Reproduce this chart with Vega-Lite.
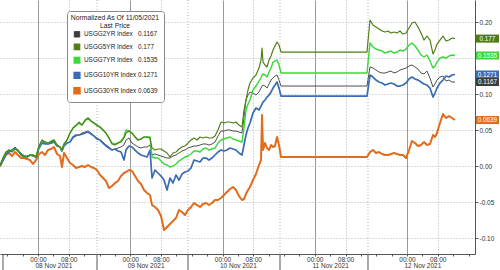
{
  "$schema": "https://vega.github.io/schema/vega-lite/v6.json",
  "width": 475,
  "height": 254,
  "autosize": {"type": "none"},
  "padding": {"left": 0, "top": 0, "right": 25, "bottom": 16},
  "background": "white",
  "config": {"view": {"stroke": null}, "font": "Liberation Sans"},
  "datasets": {
    "series": [
      {"h":-9.89,"s2":0,"s5":0,"s7":0,"s10":0,"s30":0},
      {"h":-9.11,"s2":0.0083,"s5":0.0111,"s7":0.0111,"s10":0.0083,"s30":0.0083},
      {"h":-8.33,"s2":0.0181,"s5":0.0194,"s7":0.0194,"s10":0.0167,"s30":0.0153},
      {"h":-7.54,"s2":0.0208,"s5":0.0222,"s7":0.0222,"s10":0.0194,"s30":0.0181},
      {"h":-6.76,"s2":0.0222,"s5":0.0194,"s7":0.0208,"s10":0.0222,"s30":0.0139},
      {"h":-5.98,"s2":0.0264,"s5":0.0236,"s7":0.0236,"s10":0.025,"s30":0.0194},
      {"h":-5.2,"s2":0.0222,"s5":0.0222,"s7":0.0222,"s10":0.0208,"s30":0.0153},
      {"h":-4.42,"s2":0.0181,"s5":0.0153,"s7":0.0153,"s10":0.0167,"s30":0.0111},
      {"h":-3.64,"s2":0.0139,"s5":0.0125,"s7":0.0125,"s10":0.0139,"s30":0.0111},
      {"h":-2.86,"s2":0.0139,"s5":0.0125,"s7":0.0125,"s10":0.0125,"s30":0.0097},
      {"h":-2.08,"s2":0.0153,"s5":0.0153,"s7":0.0153,"s10":0.0153,"s30":0.0083},
      {"h":-1.3,"s2":0.0153,"s5":0.0153,"s7":0.0153,"s10":0.0139,"s30":0.0028},
      {"h":-0.52,"s2":0.0139,"s5":0.0125,"s7":0.0125,"s10":0.0125,"s30":0.0083},
      {"h":0.26,"s2":0.0264,"s5":0.0278,"s7":0.0278,"s10":0.025,"s30":0.0167},
      {"h":1.04,"s2":0.0333,"s5":0.0361,"s7":0.0347,"s10":0.0319,"s30":0.0194},
      {"h":1.82,"s2":0.0319,"s5":0.0333,"s7":0.0333,"s10":0.0306,"s30":0.0153},
      {"h":2.6,"s2":0.0306,"s5":0.0319,"s7":0.0319,"s10":0.0306,"s30":0.0222},
      {"h":3.38,"s2":0.0333,"s5":0.0333,"s7":0.0347,"s10":0.0319,"s30":0.0236},
      {"h":4.16,"s2":0.0347,"s5":0.0361,"s7":0.0361,"s10":0.0333,"s30":0.0264},
      {"h":4.94,"s2":0.0292,"s5":0.0292,"s7":0.0292,"s10":0.0278,"s30":0.0167},
      {"h":5.72,"s2":0.0264,"s5":0.0264,"s7":0.0264,"s10":0.0264,"s30":0.0139},
      {"h":6.24,"s2":0.0208,"s5":0.0222,"s7":0.0222,"s10":0.0208,"s30":-0.0014},
      {"h":6.76,"s2":0.0292,"s5":0.0306,"s7":0.0306,"s10":0.0278,"s30":0.0181},
      {"h":7.54,"s2":0.0319,"s5":0.0361,"s7":0.0361,"s10":0.0319,"s30":0.0111},
      {"h":8.33,"s2":0.0333,"s5":0.0458,"s7":0.0458,"s10":0.0333,"s30":0.0042},
      {"h":9.11,"s2":0.0389,"s5":0.0528,"s7":0.0528,"s10":0.0403,"s30":0.0014},
      {"h":9.89,"s2":0.0417,"s5":0.0556,"s7":0.0569,"s10":0.0431,"s30":-0.0028},
      {"h":10.67,"s2":0.0431,"s5":0.0611,"s7":0.0597,"s10":0.0431,"s30":-0.0014},
      {"h":11.45,"s2":0.0458,"s5":0.0569,"s7":0.0569,"s10":0.0444,"s30":0},
      {"h":12.23,"s2":0.0472,"s5":0.0639,"s7":0.0625,"s10":0.0458,"s30":-0.0014},
      {"h":13.01,"s2":0.0486,"s5":0.0667,"s7":0.0667,"s10":0.0472,"s30":0.0014},
      {"h":13.79,"s2":0.0458,"s5":0.0625,"s7":0.0625,"s10":0.0444,"s30":-0.0014},
      {"h":14.57,"s2":0.0417,"s5":0.0597,"s7":0.0597,"s10":0.0417,"s30":-0.0028},
      {"h":15.35,"s2":0.0389,"s5":0.0569,"s7":0.0556,"s10":0.0375,"s30":-0.0056},
      {"h":16.13,"s2":0.0361,"s5":0.0542,"s7":0.0542,"s10":0.0361,"s30":-0.0125},
      {"h":16.91,"s2":0.0333,"s5":0.05,"s7":0.05,"s10":0.0319,"s30":-0.0167},
      {"h":17.69,"s2":0.0292,"s5":0.0458,"s7":0.0458,"s10":0.0278,"s30":-0.0208},
      {"h":18.47,"s2":0.0264,"s5":0.0389,"s7":0.0389,"s10":0.025,"s30":-0.0306},
      {"h":19.25,"s2":0.0222,"s5":0.0306,"s7":0.0319,"s10":0.0222,"s30":-0.0278},
      {"h":20.03,"s2":0.0236,"s5":0.0292,"s7":0.0306,"s10":0.0236,"s30":-0.0236},
      {"h":20.81,"s2":0.025,"s5":0.0319,"s7":0.0319,"s10":0.0208,"s30":-0.0208},
      {"h":21.59,"s2":0.0264,"s5":0.0333,"s7":0.0347,"s10":0.0194,"s30":-0.0139},
      {"h":22.37,"s2":0.0292,"s5":0.0389,"s7":0.0403,"s10":0.0083,"s30":-0.0097},
      {"h":22.89,"s2":0.0361,"s5":0.0458,"s7":0.05,"s10":0.0222,"s30":-0.0083},
      {"h":23.67,"s2":0.0389,"s5":0.0486,"s7":0.0486,"s10":0.0278,"s30":-0.0056},
      {"h":24.46,"s2":0.0319,"s5":0.0458,"s7":0.0458,"s10":0.0264,"s30":-0.0069},
      {"h":25.24,"s2":0.0292,"s5":0.0403,"s7":0.0403,"s10":0.0222,"s30":-0.0139},
      {"h":26.02,"s2":0.0264,"s5":0.0361,"s7":0.0361,"s10":0.0181,"s30":-0.0208},
      {"h":26.8,"s2":0.025,"s5":0.0375,"s7":0.0375,"s10":0.0153,"s30":-0.025},
      {"h":27.58,"s2":0.0264,"s5":0.0403,"s7":0.0403,"s10":0.0139,"s30":-0.0333},
      {"h":28.36,"s2":0.0264,"s5":0.0403,"s7":0.0403,"s10":0.0125,"s30":-0.0375},
      {"h":29.14,"s2":0.0292,"s5":0.0389,"s7":0.0403,"s10":0.0222,"s30":-0.0403},
      {"h":29.66,"s2":0.0153,"s5":0.025,"s7":0.0125,"s10":-0.0167,"s30":-0.0542},
      {"h":30.44,"s2":0.0167,"s5":0.0222,"s7":0.0111,"s10":-0.0056,"s30":-0.0569},
      {"h":31.22,"s2":0.0153,"s5":0.0236,"s7":0.0111,"s10":-0.0097,"s30":-0.0611},
      {"h":32.0,"s2":0.0139,"s5":0.0236,"s7":0.0069,"s10":-0.0139,"s30":-0.0694},
      {"h":32.78,"s2":0.0125,"s5":0.0208,"s7":0.0028,"s10":-0.0194,"s30":-0.0889},
      {"h":33.56,"s2":0.0111,"s5":0.0181,"s7":0.0014,"s10":-0.0333,"s30":-0.0847},
      {"h":34.34,"s2":0.0111,"s5":0.0125,"s7":-0.0014,"s10":-0.0167,"s30":-0.0806},
      {"h":35.12,"s2":0.0139,"s5":0.0181,"s7":0,"s10":-0.0236,"s30":-0.0764},
      {"h":35.9,"s2":0.0153,"s5":0.0194,"s7":0.0028,"s10":-0.0125,"s30":-0.0722},
      {"h":36.68,"s2":0.0181,"s5":0.0236,"s7":0.0069,"s10":-0.0194,"s30":-0.0611},
      {"h":37.46,"s2":0.0208,"s5":0.0264,"s7":0.0097,"s10":-0.0111,"s30":-0.0639},
      {"h":38.24,"s2":0.0222,"s5":0.0278,"s7":0.0125,"s10":-0.0083,"s30":-0.0681},
      {"h":39.02,"s2":0.025,"s5":0.0319,"s7":0.0139,"s10":-0.0069,"s30":-0.0611},
      {"h":39.8,"s2":0.0264,"s5":0.0361,"s7":0.0167,"s10":-0.0028,"s30":-0.0569},
      {"h":40.58,"s2":0.0278,"s5":0.0389,"s7":0.0208,"s10":0.0083,"s30":-0.0514},
      {"h":41.37,"s2":0.0278,"s5":0.0361,"s7":0.0208,"s10":0.0069,"s30":-0.0542},
      {"h":42.15,"s2":0.0292,"s5":0.0403,"s7":0.0194,"s10":0.0056,"s30":-0.0569},
      {"h":42.93,"s2":0.0306,"s5":0.0389,"s7":0.0236,"s10":0.0111,"s30":-0.0528},
      {"h":43.71,"s2":0.0306,"s5":0.0403,"s7":0.025,"s10":0.0111,"s30":-0.0514},
      {"h":44.49,"s2":0.0292,"s5":0.0389,"s7":0.0222,"s10":0.0083,"s30":-0.0542},
      {"h":45.27,"s2":0.0306,"s5":0.0389,"s7":0.0236,"s10":0.0111,"s30":-0.0514},
      {"h":46.05,"s2":0.0333,"s5":0.0417,"s7":0.025,"s10":0.0153,"s30":-0.0472},
      {"h":46.83,"s2":0.0417,"s5":0.05,"s7":0.0319,"s10":0.0194,"s30":-0.0472},
      {"h":47.61,"s2":0.0486,"s5":0.0611,"s7":0.0361,"s10":0.0222,"s30":-0.0444},
      {"h":48.39,"s2":0.0486,"s5":0.0597,"s7":0.0375,"s10":0.0208,"s30":-0.0403},
      {"h":49.17,"s2":0.05,"s5":0.0611,"s7":0.0389,"s10":0.0222,"s30":-0.0361},
      {"h":49.95,"s2":0.05,"s5":0.0611,"s7":0.0403,"s10":0.025,"s30":-0.0319},
      {"h":50.73,"s2":0.0486,"s5":0.0597,"s7":0.0375,"s10":0.0236,"s30":-0.0292},
      {"h":51.51,"s2":0.0486,"s5":0.0611,"s7":0.0361,"s10":0.0222,"s30":-0.0333},
      {"h":52.29,"s2":0.0472,"s5":0.0569,"s7":0.0347,"s10":0.0181,"s30":-0.0417},
      {"h":53.07,"s2":0.0458,"s5":0.0542,"s7":0.0333,"s10":0.0153,"s30":-0.0472},
      {"h":53.59,"s2":0.0667,"s5":0.0778,"s7":0.0528,"s10":0.0292,"s30":-0.0458},
      {"h":54.11,"s2":0.0917,"s5":0.0917,"s7":0.0778,"s10":0.0431,"s30":-0.0389},
      {"h":54.63,"s2":0.0986,"s5":0.1056,"s7":0.0861,"s10":0.0528,"s30":-0.0333},
      {"h":55.15,"s2":0.1028,"s5":0.1153,"s7":0.0917,"s10":0.0597,"s30":-0.0292},
      {"h":55.93,"s2":0.1014,"s5":0.1222,"s7":0.1056,"s10":0.0736,"s30":-0.0194},
      {"h":56.71,"s2":0.0986,"s5":0.1264,"s7":0.1111,"s10":0.0806,"s30":-0.0111},
      {"h":57.5,"s2":0.1028,"s5":0.1361,"s7":0.1181,"s10":0.0778,"s30":0.0014},
      {"h":58.02,"s2":0.1083,"s5":0.1472,"s7":0.1222,"s10":0.0833,"s30":0.0083},
      {"h":58.28,"s2":0.1111,"s5":0.1639,"s7":0.1264,"s10":0.0861,"s30":0.0708},
      {"h":58.54,"s2":0.1125,"s5":0.1444,"s7":0.1278,"s10":0.0889,"s30":0.0222},
      {"h":59.06,"s2":0.1111,"s5":0.1403,"s7":0.1264,"s10":0.0917,"s30":0.0319},
      {"h":59.58,"s2":0.1083,"s5":0.1375,"s7":0.1236,"s10":0.0958,"s30":0.025},
      {"h":60.1,"s2":0.1139,"s5":0.1472,"s7":0.1306,"s10":0.0986,"s30":0.0222},
      {"h":60.62,"s2":0.1194,"s5":0.1528,"s7":0.1361,"s10":0.1028,"s30":0.0292},
      {"h":61.14,"s2":0.1222,"s5":0.1611,"s7":0.1444,"s10":0.1083,"s30":0.0264},
      {"h":61.66,"s2":0.125,"s5":0.1667,"s7":0.1458,"s10":0.1125,"s30":0.0278},
      {"h":62.18,"s2":0.1264,"s5":0.1722,"s7":0.1472,"s10":0.1167,"s30":0.0403},
      {"h":62.7,"s2":0.1194,"s5":0.1681,"s7":0.1403,"s10":0.1083,"s30":0.0292},
      {"h":63.22,"s2":0.1111,"s5":0.1583,"s7":0.1292,"s10":0.0972,"s30":0.0125},
      {"h":85.59,"s2":0.1111,"s5":0.1583,"s7":0.1292,"s10":0.0972,"s30":0.0125},
      {"h":86.37,"s2":0.1375,"s5":0.2028,"s7":0.1708,"s10":0.1264,"s30":0.0194},
      {"h":87.15,"s2":0.1361,"s5":0.1958,"s7":0.1653,"s10":0.1236,"s30":0.0222},
      {"h":87.93,"s2":0.1333,"s5":0.1931,"s7":0.1625,"s10":0.1194,"s30":0.0181},
      {"h":88.71,"s2":0.1306,"s5":0.1903,"s7":0.1611,"s10":0.1167,"s30":0.0194},
      {"h":89.5,"s2":0.1292,"s5":0.1875,"s7":0.1597,"s10":0.1153,"s30":0.0167},
      {"h":90.28,"s2":0.1292,"s5":0.1861,"s7":0.1569,"s10":0.1125,"s30":0.0153},
      {"h":91.06,"s2":0.1306,"s5":0.1875,"s7":0.1583,"s10":0.1139,"s30":0.0153},
      {"h":91.84,"s2":0.1319,"s5":0.1847,"s7":0.1597,"s10":0.1153,"s30":0.0167},
      {"h":92.62,"s2":0.1292,"s5":0.1861,"s7":0.1569,"s10":0.1139,"s30":0.0181},
      {"h":93.4,"s2":0.1306,"s5":0.1847,"s7":0.1583,"s10":0.1111,"s30":0.0167},
      {"h":94.18,"s2":0.1333,"s5":0.1875,"s7":0.1611,"s10":0.1111,"s30":0.0153},
      {"h":94.96,"s2":0.1347,"s5":0.1833,"s7":0.1597,"s10":0.1125,"s30":0.0153},
      {"h":95.74,"s2":0.1361,"s5":0.1847,"s7":0.1625,"s10":0.1153,"s30":0.0111},
      {"h":96.52,"s2":0.1389,"s5":0.1917,"s7":0.1681,"s10":0.1208,"s30":0.0222},
      {"h":97.3,"s2":0.1403,"s5":0.1986,"s7":0.1708,"s10":0.1236,"s30":0.0347},
      {"h":98.08,"s2":0.1375,"s5":0.2,"s7":0.1667,"s10":0.1208,"s30":0.0319},
      {"h":98.86,"s2":0.1347,"s5":0.1931,"s7":0.1611,"s10":0.1194,"s30":0.0278},
      {"h":99.64,"s2":0.1292,"s5":0.1847,"s7":0.1542,"s10":0.1167,"s30":0.0292},
      {"h":100.42,"s2":0.1278,"s5":0.175,"s7":0.1514,"s10":0.1139,"s30":0.0333},
      {"h":101.2,"s2":0.1319,"s5":0.1806,"s7":0.1542,"s10":0.1125,"s30":0.0292},
      {"h":101.98,"s2":0.1222,"s5":0.175,"s7":0.1458,"s10":0.1083,"s30":0.0306},
      {"h":102.76,"s2":0.1097,"s5":0.1556,"s7":0.1361,"s10":0.0958,"s30":0.0431},
      {"h":103.28,"s2":0.1139,"s5":0.1611,"s7":0.1389,"s10":0.1014,"s30":0.0403},
      {"h":103.8,"s2":0.1194,"s5":0.1694,"s7":0.1444,"s10":0.1083,"s30":0.0458},
      {"h":104.58,"s2":0.1236,"s5":0.175,"s7":0.15,"s10":0.1153,"s30":0.0597},
      {"h":105.36,"s2":0.125,"s5":0.1806,"s7":0.1514,"s10":0.1194,"s30":0.0722},
      {"h":106.15,"s2":0.1181,"s5":0.1736,"s7":0.15,"s10":0.125,"s30":0.0667},
      {"h":106.93,"s2":0.1194,"s5":0.175,"s7":0.1528,"s10":0.1236,"s30":0.0694},
      {"h":107.71,"s2":0.1167,"s5":0.1778,"s7":0.1542,"s10":0.1264,"s30":0.0667},
      {"h":108.49,"s2":0.1167,"s5":0.177,"s7":0.1535,"s10":0.1271,"s30":0.0639}
    ],
    "seps": [
      {"h": -9.11}, {"h": 15.35}, {"h": 39.02}, {"h": 62.96}, {"h": 85.85}
    ],
    "boxes": [
      {"series": "s5", "v": 0.177, "label": "0.177"},
      {"series": "s7", "v": 0.1535, "label": "0.1535"},
      {"series": "s10", "v": 0.1271, "label": "0.1271"},
      {"series": "s2", "v": 0.1167, "label": "0.1167"},
      {"series": "s30", "v": 0.0639, "label": "0.0639"}
    ]
  },
  "layer": [
    {
      "data": {"name": "seps"},
      "transform": [{"filter": "datum.h > 0"}],
      "mark": {"type": "rule", "strokeDash": [1, 2], "color": "#b5b5b5", "strokeWidth": 1},
      "encoding": {"x": {"field": "h", "type": "quantitative", "title": null}}
    },
    {
      "data": {"name": "seps"},
      "mark": {"type": "rule", "color": "#555555", "strokeWidth": 1},
      "encoding": {
        "x": {"field": "h", "type": "quantitative", "title": null},
        "y": {"datum": -0.1222, "type": "quantitative"},
        "y2": {"datum": -0.145}
      }
    },
    {
      "data": {"name": "series"},
      "transform": [{"fold": ["s30", "s2", "s10", "s7", "s5"], "as": ["series", "v"]}],
      "mark": {"type": "line", "strokeJoin": "round"},
      "encoding": {
        "x": {
          "field": "h", "type": "quantitative", "title": null,
          "scale": {"domain": [-9.89, 113.69], "nice": false, "zero": false},
          "axis": {
            "values": [-8,-4,0,4,8,12,16,20,24,28,32,36,40,44,48,52,56,60,64,68,72,76,80,84,88,92,96,100,104,108,112],
            "tickCount": 200,
            "labelExpr": "datum.value % 24 === 0 ? '00:00' : (datum.value % 24 === 8 ? '08:00' : ((datum.value % 24 === 4 && datum.value > 0) ? ['', ((8 + floor(datum.value / 24)) < 10 ? '0' : '') + (8 + floor(datum.value / 24)) + ' Nov 2021'] : ''))",
            "labelOverlap": false,
            "labelBound": false,
            "labelFlush": false,
            "labelFont": "Liberation Sans",
            "labelFontSize": 6.5,
            "labelColor": "#333333",
            "labelPadding": 0,
            "labelLineHeight": 6.5,
            "tickSize": 2,
            "tickColor": "#555555",
            "domainColor": "#555555",
            "grid": true,
            "gridColor": {"condition": {"test": "datum.value % 24 === 0", "value": "#9a9a9a"}, "value": "#b5b5b5"},
            "gridDash": {"condition": {"test": "datum.value % 24 === 0", "value": []}, "value": [1, 2]},
            "gridOpacity": {"condition": {"test": "datum.value % 24 === 0 || datum.value % 24 === 8", "value": 1}, "value": 0}
          }
        },
        "y": {
          "field": "v", "type": "quantitative", "title": null,
          "scale": {"domain": [-0.1222, 0.2306], "nice": false, "zero": false},
          "axis": {
            "orient": "right",
            "values": [-0.1, -0.05, 0, 0.05, 0.1, 0.15, 0.2],
            "tickCount": 50,
            "labelExpr": "datum.value === 0.15 ? '' : replace(format(datum.value, '.2f'), '\u2212', '-')",
            "labelFont": "Liberation Sans",
            "labelFontSize": 6.5,
            "labelColor": "#333333",
            "labelPadding": 1,
            "tickSize": 3,
            "tickColor": "#555555",
            "domainColor": "#555555",
            "grid": true,
            "gridDash": [1, 2],
            "gridColor": "#b5b5b5"
          }
        },
        "color": {
          "field": "series", "type": "nominal",
          "scale": {"domain": ["s2", "s5", "s7", "s10", "s30"], "range": ["#3c3c3c", "#4e7d14", "#3ad93a", "#3a6db3", "#e06c1c"]},
          "legend": {
            "orient": "none",
            "legendX": 67,
            "legendY": 11,
            "title": ["Normalized As Of 11/05/2021", "Last Price"],
            "titleFont": "Liberation Sans",
            "titleFontSize": 6.8,
            "titleFontWeight": "normal",
            "titleColor": "#222222",
            "titleAnchor": "middle",
            "titleAlign": "center",
            "titleLineHeight": 8,
            "titlePadding": 1,
            "labelFont": "Liberation Sans",
            "labelFontSize": 6.4,
            "labelColor": "#222222",
            "labelLimit": 200,
            "labelOffset": 3,
            "symbolType": "square",
            "symbolSize": 30,
            "symbolStrokeWidth": 0,
            "rowPadding": 1.5,
            "padding": 4,
            "fillColor": "white",
            "strokeColor": "#888888",
            "cornerRadius": 3,
            "labelExpr": "datum.value === 's2' ? 'USGG2YR Index\u00a0\u00a0\u00a00.1167' : datum.value === 's5' ? 'USGG5YR Index\u00a0\u00a0\u00a00.177' : datum.value === 's7' ? 'USGG7YR Index\u00a0\u00a0\u00a00.1535' : datum.value === 's10' ? 'USGG10YR Index\u00a00.1271' : 'USGG30YR Index\u00a00.0639'",
            "encode": {"symbols": {"update": {"fill": {"scale": "color", "field": "value"}, "stroke": {"value": "transparent"}}}}
          }
        },
        "strokeWidth": {
          "field": "series", "type": "nominal",
          "scale": {"domain": ["s2", "s5", "s7", "s10", "s30"], "range": [0.9, 2, 1.2, 0.9, 1.8]},
          "legend": null
        }
      }
    },
    {
      "data": {"name": "boxes"},
      "mark": {"type": "point", "shape": "M-1,-0.35H1V0.35H-1Z", "filled": true, "opacity": 1, "size": 529, "strokeWidth": 0},
      "encoding": {
        "x": {"datum": 116.94, "type": "quantitative"},
        "y": {"field": "v", "type": "quantitative"},
        "color": {"field": "series", "type": "nominal", "legend": null}
      }
    },
    {
      "data": {"name": "boxes"},
      "mark": {"type": "text", "color": "white", "font": "Liberation Sans", "fontSize": 6.3, "align": "center", "baseline": "middle"},
      "encoding": {
        "x": {"datum": 116.94, "type": "quantitative"},
        "y": {"field": "v", "type": "quantitative"},
        "text": {"field": "label"}
      }
    }
  ]
}
